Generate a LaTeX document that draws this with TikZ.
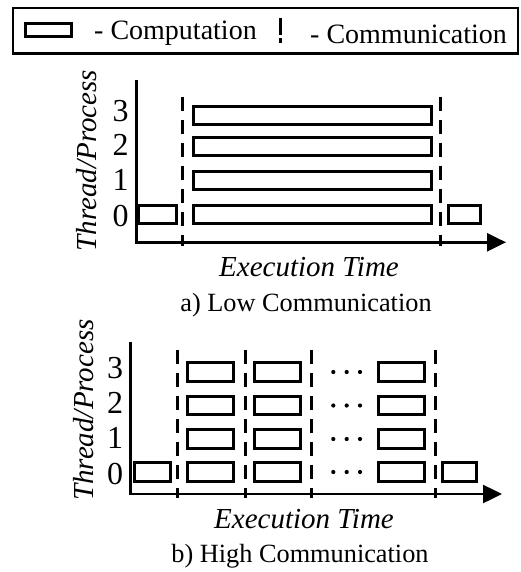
\documentclass[tikz,border=0pt]{standalone}
\usepackage{fontspec}
\setmainfont{Liberation Serif}
\usetikzlibrary{arrows.meta}

\tikzset{
  comp/.style={draw, line width=3pt, minimum height=18pt, inner sep=0pt, outer sep=0pt},
  comm/.style={line width=3pt, dash pattern=on 14pt off 9pt},
  axisline/.style={line width=2.5pt, -{Triangle[length=19pt,width=18pt]}},
  legendframe/.style={draw, line width=2.5pt, inner sep=0pt, outer sep=0pt},
  rowlabel/.style={font=\fontsize{32}{34}\selectfont, inner sep=0pt},
  axislabel/.style={font=\fontsize{29}{31}\selectfont\itshape, inner sep=0pt, anchor=base},
  caption/.style={font=\fontsize{26.3}{28}\selectfont, inner sep=0pt, anchor=base},
  legendtext/.style={font=\fontsize{28}{30}\selectfont, inner sep=0pt, anchor=base west},
  dotmark/.style={fill, circle, inner sep=0pt, minimum size=4.2pt},
}

\begin{document}
\begin{tikzpicture}[x=1pt, y=-1pt]
\useasboundingbox (0,0) rectangle (521,572);

% ---------- legend ----------
\node[legendframe, minimum width=505pt, minimum height=45.5pt] (legend) at (265.5,30.7) {};
\node[comp, minimum width=46pt, minimum height=13.6pt] (legcomp) at (48.5,30) {};
\node[legendtext] (legcomptext) at (94,39.5) {- Computation};
\coordinate (legcommtop) at (280,18);
\coordinate (legcommbot) at (280,43);
\draw[line width=3pt, dash pattern=on 17pt off 3pt] (legcommtop) -- (legcommbot);
\node[legendtext] (legcommtext) at (310,44) {- Communication};

% ---------- a) low communication ----------
\coordinate (aTop) at (136.5,80);
\coordinate (aOrigin) at (136.5,242.3);
\coordinate (aEnd) at (506,242.3);
\draw[axisline] (aTop) -- (aOrigin) -- (aEnd);

\coordinate (aS1top) at (182.5,96.7);  \coordinate (aS1bot) at (182.5,246);
\coordinate (aS2top) at (440.5,96.7);  \coordinate (aS2bot) at (440.5,246);
\draw[comm] (aS1top) -- (aS1bot);
\draw[comm] (aS2top) -- (aS2bot);

\foreach \r/\y/\ly in {3/115.5/111,2/146.5/145,1/180.3/180,0/214/216}{
  \node[rowlabel] (aL\r) at (120.5,\ly) {\r};
  \node[comp, minimum width=238pt] (aW\r) at (312.2,\y) {};
}
\node[comp, minimum width=38pt] (aPre) at (157.5,214) {};
\node[comp, minimum width=32.6pt] (aPost) at (464.5,214) {};

\node[axislabel, rotate=90] (aYlab) at (96,160.5) {Thread/Process};
\node[axislabel] (aXlab) at (309,276.7) {Execution Time};
\node[caption] (aCap) at (306,311.7) {a) Low Communication};

% ---------- b) high communication ----------
\coordinate (bTop) at (130.7,341.7);
\coordinate (bOrigin) at (130.7,494);
\coordinate (bEnd) at (502,494);
\draw[axisline] (bTop) -- (bOrigin) -- (bEnd);

\foreach \k/\x in {1/177.3,2/245,3/311.7,4/435.5}{
  \coordinate (bS\k top) at (\x,350);
  \coordinate (bS\k bot) at (\x,497.5);
  \draw[comm] (bS\k top) -- (bS\k bot);
}

\foreach \r/\y/\ly in {3/372/368,2/405.5/403,1/439/438,0/472/474}{
  \node[rowlabel] (bL\r) at (115,\ly) {\r};
  \node[comp, minimum width=46pt, minimum height=18.5pt] (bA\r) at (210.5,\y) {};
  \node[comp, minimum width=46pt, minimum height=18.5pt] (bB\r) at (277.5,\y) {};
  \node[comp, minimum width=46pt, minimum height=18.5pt] (bC\r) at (401.3,\y) {};
  \node[dotmark] (bD\r a) at (333.3,\y) {};
  \node[dotmark] (bD\r b) at (346.7,\y) {};
  \node[dotmark] (bD\r c) at (360,\y) {};
}
\node[comp, minimum width=36.6pt, minimum height=18.5pt] (bPre) at (152.5,472) {};
\node[comp, minimum width=34.3pt, minimum height=18.5pt] (bPost) at (459.7,472) {};

\node[axislabel, rotate=90] (bYlab) at (93,410) {Thread/Process};
\node[axislabel] (bXlab) at (304,528) {Execution Time};
\node[caption] (bCap) at (300,562) {b) High Communication};
\end{tikzpicture}
\end{document}
